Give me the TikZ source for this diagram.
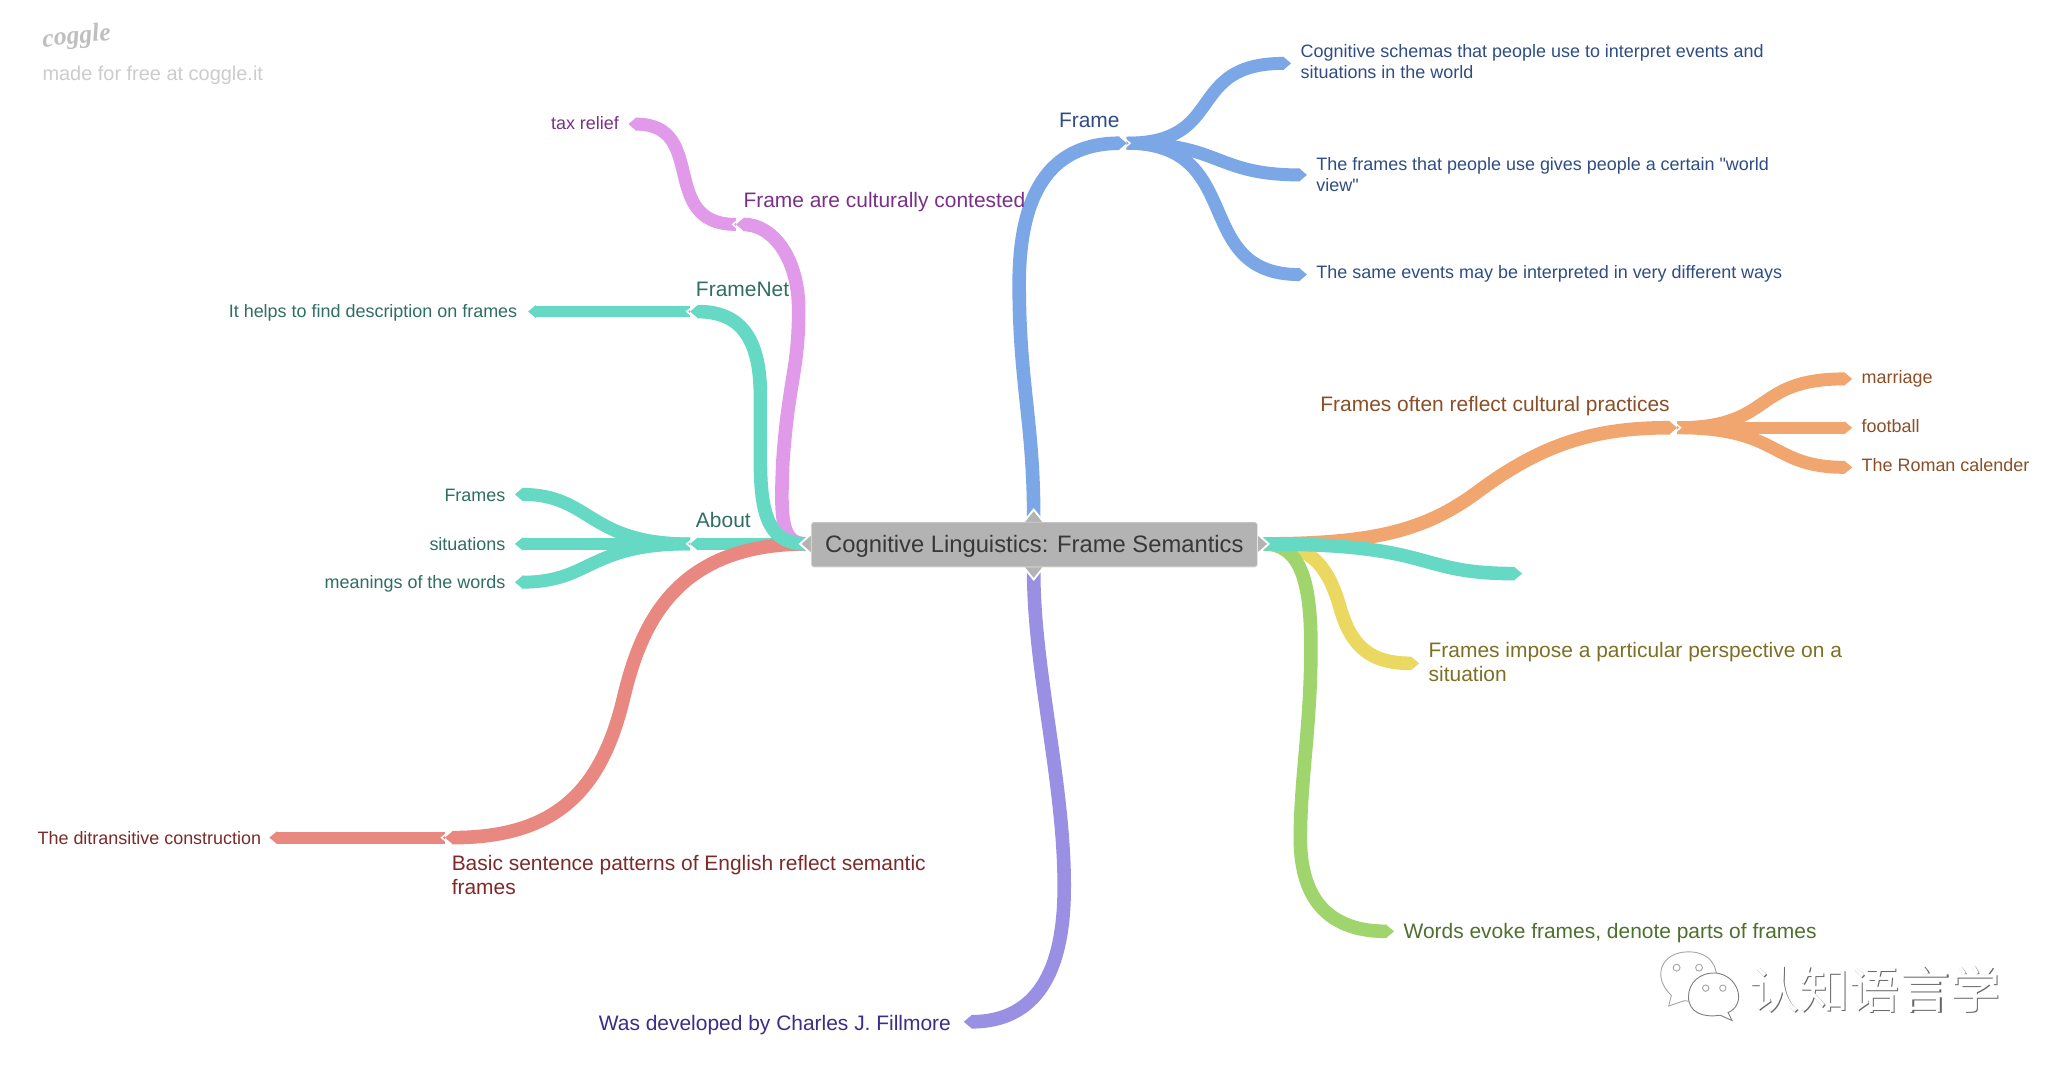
\documentclass[tikz,border=0pt]{standalone}
\usepackage{fontspec}
\setmainfont{Liberation Sans}
\newfontfamily\plainf{Liberation Sans}
\newfontfamily\cjk{Noto Sans CJK SC}
\newfontfamily\logofont{Liberation Serif}
\usetikzlibrary{arrows.meta,calc}
\definecolor{cteal}{HTML}{66D9C4}\definecolor{cpink}{HTML}{E09AE9}
\definecolor{cblue}{HTML}{7BA7E7}\definecolor{cred}{HTML}{E88880}
\definecolor{corange}{HTML}{F1A670}\definecolor{cyellow}{HTML}{EBD860}
\definecolor{cgreen}{HTML}{9FD56C}\definecolor{cpurple}{HTML}{9A90E3}
\definecolor{tteal}{HTML}{2F6E62}\definecolor{tpink}{HTML}{7B3088}
\definecolor{tblue}{HTML}{2F4D84}\definecolor{tred}{HTML}{7D2A2A}
\definecolor{torange}{HTML}{8A4F26}\definecolor{tyellow}{HTML}{7D7024}
\definecolor{tgreen}{HTML}{4F6F2E}\definecolor{tpurple}{HTML}{3C2D88}
\definecolor{boxgray}{HTML}{B3B3B3}
\tikzset{
  leaf/.style={line width=9.8pt,line cap=butt,-{Triangle[length=6pt,width=9.8pt]}},
  leafs/.style={line width=8.9pt,line cap=butt,-{Triangle[length=6pt,width=9.6pt]}},
  par/.style={line width=10.3pt,line cap=butt,-{Triangle[length=6pt,width=9.6pt]}},
  lab/.style={anchor=west,inner sep=0pt,align=left,font=\fontsize{15.87}{18.2}\selectfont},
  sub/.style={anchor=west,inner sep=0pt,align=left,font=\fontsize{13.6}{16}\selectfont},
  subr/.style={anchor=east,inner sep=0pt,align=right,font=\fontsize{13.6}{16}\selectfont},
  chev/.style={draw=white,line width=1.1pt,line cap=round,line join=miter},
  rootTip/.style={fill=boxgray,draw=white,line width=1.4pt,line join=miter},
  wm/.style={inner sep=0pt,font=\cjk\fontsize{38}{39}\selectfont},
}
\begin{document}
\begin{tikzpicture}[x=1pt,y=-1pt]
\useasboundingbox (0,0) rectangle (1568,819);
\fill[white] (0,0) rectangle (1568,819);
% anchors
\coordinate (rW) at (611,412);
\coordinate (rE) at (957,412);
\coordinate (rN) at (783,392);
\coordinate (rS) at (783,433);
\coordinate (jFrame) at (853.5,108.5);
\coordinate (jCont) at (557.5,170);
\coordinate (jNet) at (522.7,236);
\coordinate (jAbout) at (522.7,412);
\coordinate (jBasic) at (337,634.5);
\coordinate (jCult) at (1270.5,324);
% end points
\coordinate (e1) at (978,48);
\coordinate (e2) at (990,132.5);
\coordinate (e3) at (990,208);
\coordinate (e4) at (476,94);
\coordinate (e5) at (400,236);
\coordinate (e6) at (390,374.5);
\coordinate (e7) at (390,412);
\coordinate (e8) at (390,441);
\coordinate (e9) at (204,634.5);
\coordinate (e10) at (730,774);
\coordinate (e11) at (1403,287);
\coordinate (e12) at (1403,324);
\coordinate (e13) at (1403,354);
\coordinate (e14) at (1153,434.5);
\coordinate (e15) at (1075,502.5);
\coordinate (e16) at (1056,705.5);
% Frame
\draw[leaf,cblue] (jFrame) .. controls (930,108.5) and (897,48) .. (e1);
\draw[leaf,cblue] (jFrame) .. controls (925,108.5) and (920,132.5) .. (e2);
\draw[leaf,cblue] (jFrame) .. controls (945,108.5) and (901,208) .. (e3);
\draw[par,cblue] (rN) .. controls (783,320) and (772,290) .. (772,215) .. controls (772,140) and (800,108.5) .. (jFrame);
% Developed
\draw[par,cpurple] (rS) .. controls (783,510) and (808,600) .. (806,680) .. controls (804,750) and (775,774) .. (e10);
% About
\draw[leaf,cteal] (jAbout) .. controls (445,412) and (448,374.5) .. (e6);
\draw[leafs,cteal] (jAbout) -- (e7);
\draw[leaf,cteal] (jAbout) .. controls (445,412) and (448,441) .. (e8);
\draw[leafs,cteal] (rW) -- (jAbout);
% contested
\draw[leaf,cpink] (jCont) .. controls (498,170) and (537,94) .. (e4);
\draw[par,cpink] (rW) .. controls (592,412) and (591,395) .. (593,350) .. controls (597,290) and (605,280) .. (605,235) .. controls (605,195) and (585,170) .. (jCont);
% Basic
\draw[leafs,cred] (jBasic) -- (e9);
\draw[par,cred] (rW) .. controls (510,412) and (485,475) .. (472,530) .. controls (455,600) and (420,634.5) .. (jBasic);
% FrameNet
\draw[leafs,cteal] (jNet) -- (e5);
\draw[par,cteal] (rW) .. controls (585,412) and (576,395) .. (576,350) .. controls (576,330) and (576,320) .. (576,300) .. controls (576,255) and (560,236) .. (jNet);
% right side
\draw[leaf,corange] (jCult) .. controls (1345,324) and (1326,287) .. (e11);
\draw[leafs,corange] (jCult) -- (e12);
\draw[leaf,corange] (jCult) .. controls (1350,324) and (1340,354) .. (e13);
\draw[par,corange] (rE) .. controls (1040,412) and (1080,402) .. (1120,372) .. controls (1170,335) and (1210,324) .. (jCult);
\draw[par,cyellow] (rE) .. controls (990,412) and (1005,425) .. (1015,460) .. controls (1024,492) and (1040,502.5) .. (e15);
\draw[par,cgreen] (rE) .. controls (985,412) and (993,440) .. (993,490) .. controls (993,550) and (985,590) .. (985,635) .. controls (985,685) and (1010,705.5) .. (e16);
\draw[par,cteal] (rE) .. controls (1090,412) and (1070,434.5) .. (e14);
% junction chevrons
\draw[chev] ($(jNet)+(3.5,-5)$) -- ($(jNet)+(-2.5,0)$) -- ($(jNet)+(3.5,5)$);
\draw[chev] ($(jAbout)+(3.5,-5)$) -- ($(jAbout)+(-2.5,0)$) -- ($(jAbout)+(3.5,5)$);
\draw[chev] ($(jCont)+(3.5,-5)$) -- ($(jCont)+(-2.5,0)$) -- ($(jCont)+(3.5,5)$);
\draw[chev] ($(jBasic)+(3.5,-5)$) -- ($(jBasic)+(-2.5,0)$) -- ($(jBasic)+(3.5,5)$);
\draw[chev] ($(jFrame)+(-3.5,-5)$) -- ($(jFrame)+(2.5,0)$) -- ($(jFrame)+(-3.5,5)$);
\draw[chev] ($(jCult)+(-3.5,-5)$) -- ($(jCult)+(2.5,0)$) -- ($(jCult)+(-3.5,5)$);
% root
\draw[rootTip] (615,404) -- (606,412) -- (615,420);
\draw[rootTip] (952,404) -- (961,412) -- (952,420);
\draw[rootTip] (775,396) -- (783,386) -- (791,396);
\draw[rootTip] (775,429) -- (783,439) -- (791,429);
\node[fill=boxgray,draw=white!90!black,line width=0.5pt,rounded corners=1.5pt,minimum width=338pt,minimum height=34pt,inner sep=0pt,text=black!78,text height=14pt,text depth=1.8pt,font=\fontsize{18}{20}\selectfont] (root) at (783.5,412.5) {Cognitive Linguistics: Frame Semantics};
% labels
\node[lab,tblue] (frame) at (802,91) {Frame};
\node[sub,tblue] (f1) at (985,46.7) {Cognitive schemas that people use to interpret events and\\situations in the world};
\node[sub,tblue] (f2) at (997,132) {The frames that people use gives people a certain {\plainf "}world\\view{\plainf "}};
\node[sub,tblue] (f3) at (997,207.7) {The same events may be interpreted in very different ways};
\node[lab,tpink] (cont) at (563,153) {Frame are culturally contested};
\node[subr,tpink] (tax) at (469,93) {tax relief};
\node[lab,tteal] (net) at (527,219) {FrameNet};
\node[subr,tteal] (desc) at (392,237) {It helps to find description on frames};
\node[lab,tteal] (about) at (527,394) {About};
\node[subr,tteal] (a1) at (383,375) {Frames};
\node[subr,tteal] (a2) at (383,412) {situations};
\node[subr,tteal] (a3) at (383,442.5) {meanings of the words};
\node[subr,tred] (ditr) at (198,635) {The ditransitive construction};
\node[lab,tred] (basic) at (342,663) {Basic sentence patterns of English reflect semantic\\frames};
\node[lab,tpurple,anchor=east] (fill) at (720.5,776.5) {Was developed by Charles J. Fillmore};
\node[lab,torange] (cult) at (1000,307.5) {Frames often reflect cultural practices};
\node[sub,torange] (c1) at (1410,287) {marriage};
\node[sub,torange] (c2) at (1410,323) {football};
\node[sub,torange] (c3) at (1410,352) {The Roman calender};
\node[lab,tyellow] (persp) at (1082,501.5) {Frames impose a particular perspective on a\\situation};
\node[lab,tgreen] (words) at (1063,707) {Words evoke frames, denote parts of frames};
% coggle mark
\node[inner sep=0pt,anchor=west,text=black!25,rotate=6,font=\logofont\itshape\bfseries\fontsize{19.5}{21}\selectfont] (logo) at (32,31) {coggle};
\node[inner sep=0pt,anchor=west,text=black!20,font=\fontsize{15.1}{17}\selectfont] (made) at (32,57) {made for free at coggle.it};
% watermark
\begin{scope}[draw=black!35,line width=0.7pt]
\path[draw,fill=white] (1266,754) .. controls (1251,740) and (1258,721) .. (1279,721) .. controls (1296,721) and (1302,733) .. (1300,745) .. controls (1295,755) and (1285,760) .. (1276,758) -- (1264,762) -- cycle;
\path[draw=black!50,fill=white] (1279,755) .. controls (1279,744) and (1288,737) .. (1298,737) .. controls (1310,737) and (1317,747) .. (1317,755) .. controls (1317,762) and (1312,766) .. (1309,767) -- (1312,773) -- (1303,769) .. controls (1290,771) and (1279,767) .. (1279,755) -- cycle;
\path[draw,fill=white] (1270,733) circle (2.6);
\path[draw,fill=white] (1287,733) circle (2.6);
\path[draw,fill=white] (1292,748.5) circle (2.4);
\path[draw,fill=white] (1305,748.5) circle (2.4);
\end{scope}
\node[wm,text=black!60] (wmS) at (1421,749.8) {认知语言学};
\node[wm,text=white] (wmT) at (1420.2,749) {认知语言学};
\end{tikzpicture}
\end{document}
